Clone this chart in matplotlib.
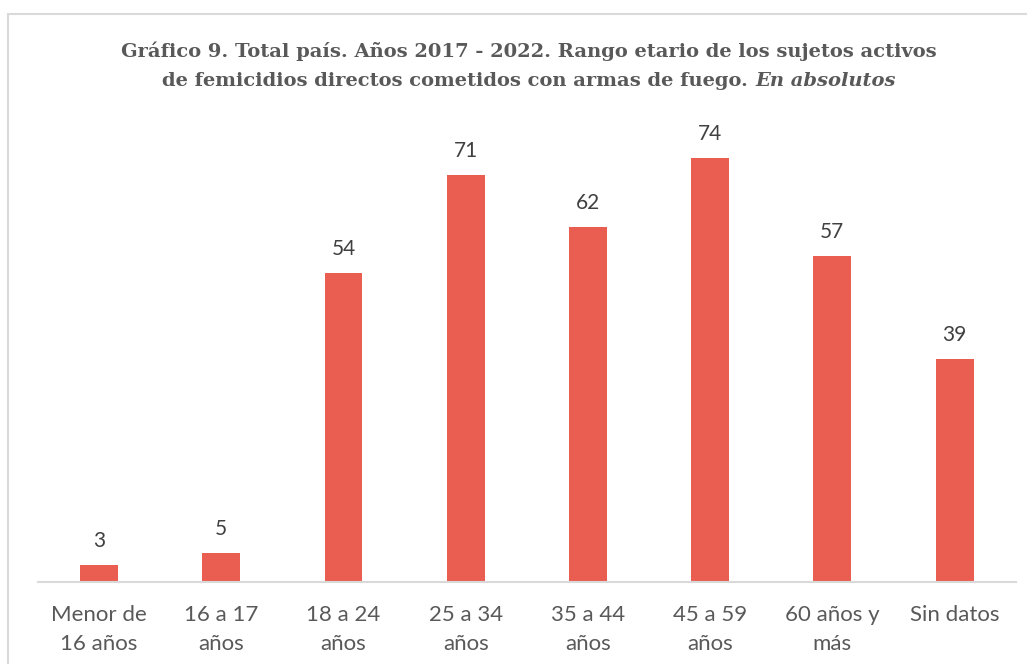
import numpy as np
import matplotlib.pyplot as plt
from matplotlib.patches import Rectangle

# Datos del gráfico
categorias = ["Menor de\n16 años", "16 a 17\naños", "18 a 24\naños", "25 a 34\naños",
              "35 a 44\naños", "45 a 59\naños", "60 años y\nmás", "Sin datos"]
valores = [3, 5, 54, 71, 62, 74, 57, 39]

titulo_1 = "Gráfico 9. Total país. Años 2017 - 2022. Rango etario de los sujetos activos"
titulo_2a = "de femicidios directos cometidos con armas de fuego. "
titulo_2b = "En absolutos"

color_barra = "#EA5E51"
color_texto = "#595959"

fig = plt.figure(figsize=(10.27, 6.64), dpi=100)
ax = fig.add_axes([0.037, 0.1235, 0.952, 0.69])

x = np.arange(len(categorias))
ax.bar(x, valores, width=0.31, color=color_barra, zorder=2)

# Etiquetas de valor sobre cada barra
for xi, v in zip(x, valores):
    ax.annotate(str(v), (xi, v), xytext=(0, 10), textcoords="offset points",
                ha="center", va="bottom", fontsize=15, color="#404040",
                family="Lato")

ax.set_xlim(-0.5, len(categorias) - 0.5)
ax.set_ylim(0, 80)
ax.set_xticks(x)
ax.set_xticklabels(categorias, fontsize=16, color=color_texto, family="Lato",
                   linespacing=1.55, va="top")
ax.tick_params(axis="x", length=0, pad=16.5)
ax.set_yticks([])
for lado in ["top", "right", "left"]:
    ax.spines[lado].set_visible(False)
ax.spines["bottom"].set_color("#D9D9D9")
ax.spines["bottom"].set_linewidth(1.5)

# Título en dos líneas (la última parte en cursiva)
estilo = dict(fontsize=14.0, fontweight="bold", color=color_texto, family="DejaVu Serif")
fig.text(0.515, 0.923, titulo_1, ha="center", va="center", **estilo)

r = fig.canvas.get_renderer()
t2a = fig.text(0, 0.878, titulo_2a, ha="left", va="center", **estilo)
t2b = fig.text(0, 0.878, titulo_2b, ha="left", va="center", style="italic", **estilo)
wa = t2a.get_window_extent(r).width / fig.bbox.width
wb = t2b.get_window_extent(r).width / fig.bbox.width
x0 = 0.515 - (wa + wb) / 2
t2a.set_x(x0)
t2b.set_x(x0 + wa)

# Borde del área del gráfico
fig.patches.append(Rectangle((0.008, -0.01), 1.0, 0.989, transform=fig.transFigure,
                             fill=False, edgecolor="#D9D9D9", linewidth=1.5))

fig.savefig("out.png", dpi=100)
